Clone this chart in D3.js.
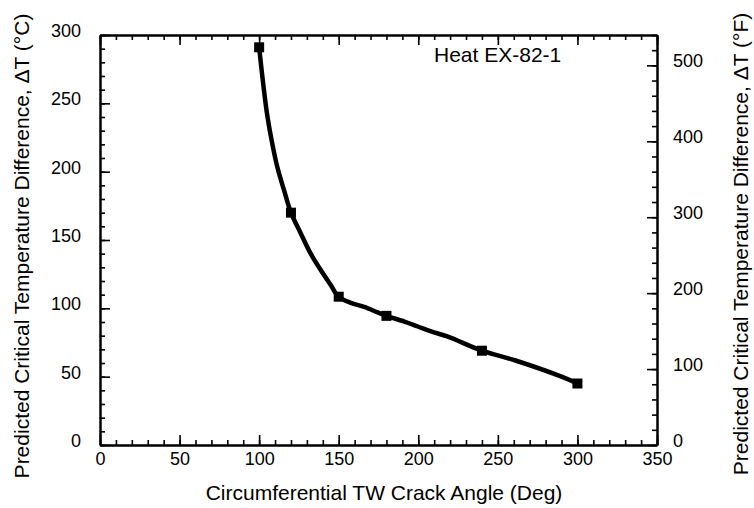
<!DOCTYPE html>
<html>
<head>
<meta charset="utf-8">
<script src="https://cdn.jsdelivr.net/npm/d3@7"></script>
<style>
  body { margin: 0; background: #fff; }
  text { font-family: "Liberation Sans", Arial, Helvetica, sans-serif; fill: #000; }
  .axis path, .axis line { stroke: #000; }
</style>
</head>
<body>
<div id="chart-area"></div>
<script>
// curve
var crackAngle = [100, 101.5, 103, 105, 108, 111.5, 115.5, 120, 126.1, 132.4, 138.7, 145, 150,
    157.6, 166, 174.5, 180, 191.3, 199.7, 208.1, 218.6, 240, 260.6, 290, 300]
var deltaT = [291, 275, 260, 242, 222, 203, 187, 170, 155, 140, 128, 117, 108.5,
    104, 101, 97, 94.5, 90.3, 86.7, 83.1, 79.3, 69, 62, 50, 45]

// square markers
var markerAngle = [100, 120, 150, 180, 240, 300]
var markerDT = [291, 170, 108.5, 94.5, 69, 45]

var xTicks = [0, 50, 100, 150, 200, 250, 300, 350]
var yTicksC = [0, 50, 100, 150, 200, 250, 300]
var yTicksF = [0, 100, 200, 300, 400, 500]

var m = {l: 100, t: 35, r: 97, b: 63}
var cw = 754
var ch = 508
var w = cw - m.l - m.r
var h = ch - m.t - m.b

var svg = d3.select("#chart-area").append("svg")
    .attr("width", cw)
    .attr("height", ch)

var g = svg.append("g").attr("transform", "translate(" + m.l + ", " + m.t + ")")

var x = d3.scaleLinear().domain([0, 350]).range([0, w])
var y = d3.scaleLinear().domain([0, 300]).range([h, 0])
var yF = d3.scaleLinear().domain([0, 540]).range([h, 0])

function styleAxis(sel, fs) {
    sel.selectAll("path").attr("stroke-width", 2)
    sel.selectAll("line").attr("stroke-width", 1.6)
    sel.selectAll("text").attr("font-size", fs + "px")
    sel.attr("font-family", null).attr("font-size", null)
}

// minor ticks
g.append("g").attr("class", "axis")
    .call(d3.axisLeft(y).tickValues(d3.range(0, 301, 10)).tickSize(-5).tickSizeOuter(0).tickFormat(""))
    .call(styleAxis, 18)
g.append("g").attr("class", "axis")
    .attr("transform", "translate(" + w + ",0)")
    .call(d3.axisRight(yF).tickValues(d3.range(0, 541, 20)).tickSize(-5).tickSizeOuter(0).tickFormat(""))
    .call(styleAxis, 18)
g.append("g").attr("class", "axis")
    .call(d3.axisTop(x).tickValues(d3.range(0, 351, 10)).tickSize(-5).tickSizeOuter(0).tickFormat(""))
    .call(styleAxis, 18)
g.append("g").attr("class", "axis")
    .attr("transform", "translate(0," + h + ")")
    .call(d3.axisBottom(x).tickValues(d3.range(0, 351, 10)).tickSize(-5).tickSizeOuter(0).tickFormat(""))
    .call(styleAxis, 18)

// major ticks + labels
var leftAxis = g.append("g").attr("class", "axis")
    .call(d3.axisLeft(y).tickValues(yTicksC).tickSize(-10).tickSizeOuter(0).tickPadding(19))
    .call(styleAxis, 18)
leftAxis.selectAll("text").attr("dy", "0.08em")

var rightAxis = g.append("g").attr("class", "axis")
    .attr("transform", "translate(" + w + ",0)")
    .call(d3.axisRight(yF).tickValues(yTicksF).tickSize(-10).tickSizeOuter(0).tickPadding(16))
    .call(styleAxis, 18)
rightAxis.selectAll("text").attr("dy", "0.08em")

g.append("g").attr("class", "axis")
    .call(d3.axisTop(x).tickValues(xTicks).tickSize(-10).tickSizeOuter(0).tickFormat(""))
    .call(styleAxis, 18)

g.append("g").attr("class", "axis")
    .attr("transform", "translate(0," + h + ")")
    .call(d3.axisBottom(x).tickValues(xTicks).tickSize(-10).tickSizeOuter(0).tickPadding(7))
    .call(styleAxis, 18)

// axis titles
svg.append("text")
    .attr("x", 384)
    .attr("y", 500)
    .attr("font-size", "21px")
    .attr("text-anchor", "middle")
    .text("Circumferential TW Crack Angle (Deg)")

svg.append("text")
    .attr("transform", "translate(29, 246) rotate(-90)")
    .attr("font-size", "21px")
    .attr("text-anchor", "middle")
    .text("Predicted Critical Temperature Difference, \u0394T (\u00B0C)")

svg.append("text")
    .attr("transform", "translate(748, 244) rotate(-90)")
    .attr("font-size", "21px")
    .attr("text-anchor", "middle")
    .text("Predicted Critical Temperature Difference, \u0394T (\u00B0F)")

svg.append("text")
    .attr("x", 434)
    .attr("y", 62)
    .attr("font-size", "21px")
    .text("Heat EX-82-1")

// curve
var pts = crackAngle.map((a, i) => [a, deltaT[i]])
var line = d3.line()
    .x(d => x(d[0]))
    .y(d => y(d[1]))
    .curve(d3.curveCatmullRom)

g.append("path")
    .datum(pts)
    .attr("fill", "none")
    .attr("stroke", "#000")
    .attr("stroke-width", 4.5)
    .attr("stroke-linejoin", "round")
    .attr("d", line)

var mk = markerAngle.map((a, i) => ({a: a, t: markerDT[i]}))
g.selectAll("rect.marker")
    .data(mk)
    .enter()
    .append("rect")
    .attr("class", "marker")
    .attr("x", d => x(d.a) - 5)
    .attr("y", d => y(d.t) - 5)
    .attr("width", 10)
    .attr("height", 10)
    .attr("fill", "#000")
</script>
</body>
</html>
